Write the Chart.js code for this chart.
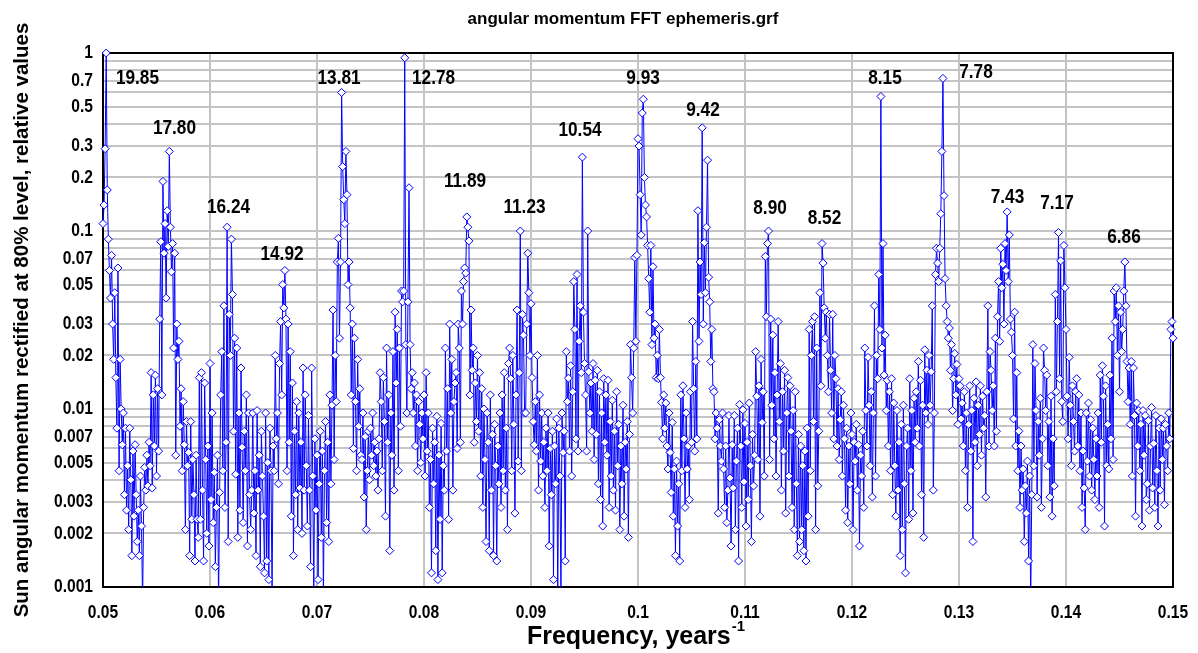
<!DOCTYPE html>
<html><head><meta charset="utf-8">
<script src="https://cdn.jsdelivr.net/npm/chart.js@4"></script>
<style>html,body{margin:0;padding:0;background:#fff;}#wrap{width:1198px;height:653px;position:relative;}</style>
</head><body><div id="wrap"><canvas id="c" width="1198" height="653"></canvas></div>
<script>
// ---------- data ----------
const freqStart = 0.05;
const freqStep = 0.0001;
const amp050 = [0.11,0.14,0.29,1.0,0.17,0.09,0.06,0.042,0.073,0.03,
0.019,0.045,0.015,0.0078,0.062,0.0045,0.019,0.01,0.0063,0.0095,
0.0033,0.0078,0.0027,0.0048,0.0021,0.0078,0.004,0.0015,0.0058,0.0025,
0.0063,0.0033,0.0018,0.0027,0.0015,0.0042,0.0022,0.0008,0.0028,0.0047,
0.0035,0.0055,0.0037,0.0065,0.0048,0.016,0.0036,0.012,0.0062,0.0155,
0.0042,0.013,0.0058,0.032,0.087,0.012,0.19,0.075,0.11,0.042,
0.13,0.082,0.28,0.105,0.059,0.085,0.022,0.075,0.0055,0.03,
0.019,0.024,0.008,0.013,0.0045,0.011,0.0063,0.0021,0.0085,0.0048,
0.0057,0.0015,0.0085,0.0024,0.0052,0.0033,0.0014,0.0055,0.0024,0.0019,
0.015,0.0024,0.016,0.0035,0.0014,0.014,0.0052,0.002,0.0062,0.0017];
const amp060 = [0.018,0.0031,0.0095,0.0023,0.0044,0.0013,0.0028,0.0055,0.0008,0.0034,
0.012,0.021,0.0045,0.038,0.0028,0.0065,0.105,0.0018,0.034,0.02,
0.09,0.044,0.0075,0.025,0.0043,0.022,0.0019,0.0095,0.0027,0.017,
0.0061,0.0023,0.0075,0.0045,0.012,0.0017,0.0095,0.0033,0.0021,0.0035,
0.0095,0.0026,0.0045,0.0015,0.0098,0.0035,0.0055,0.0013,0.0075,0.0042,
0.0025,0.0012,0.0095,0.0014,0.005,0.0011,0.0078,0.0045,0.0009,0.0062,
0.0045,0.02,0.0068,0.0095,0.0038,0.018,0.031,0.012,0.05,0.037,
0.06,0.032,0.0045,0.03,0.0065,0.021,0.0025,0.014,0.0015,0.0075,
0.0033,0.011,0.0021,0.0095,0.0036,0.0065,0.002,0.017,0.0035,0.012,
0.0048,0.0022,0.0092,0.0035,0.0013,0.017,0.0042,0.0009,0.0068,0.0027];
const amp070 = [0.0055,0.0011,0.0038,0.0075,0.0019,0.0058,0.0009,0.0045,0.0085,0.0023,
0.0065,0.0018,0.012,0.0038,0.0105,0.036,0.0052,0.02,0.011,0.067,
0.091,0.025,0.067,0.6,0.23,0.15,0.11,0.28,0.16,0.05,
0.067,0.037,0.012,0.03,0.006,0.025,0.011,0.0045,0.019,0.008,
0.013,0.0055,0.0052,0.0095,0.0032,0.007,0.0021,0.0045,0.0075,0.004,
0.0078,0.0055,0.0095,0.0048,0.0065,0.0042,0.0058,0.0035,0.0068,0.016,
0.011,0.0045,0.015,0.0085,0.0025,0.022,0.0065,0.012,0.0016,0.0095,
0.0055,0.021,0.0035,0.035,0.014,0.028,0.0045,0.022,0.008,0.046,
0.04,0.046,0.94,0.023,0.0095,0.04,0.175,0.023,0.013,0.016,
0.0095,0.014,0.0062,0.012,0.0045,0.011,0.0082,0.005,0.0095,0.0068];
const amp080 = [0.012,0.0042,0.016,0.0058,0.0095,0.0028,0.0052,0.0012,0.0078,0.0038,
0.0065,0.0016,0.0091,0.0011,0.0055,0.0024,0.0083,0.0012,0.0048,0.0035,
0.022,0.0058,0.013,0.0024,0.03,0.0095,0.019,0.0035,0.011,0.014,
0.016,0.006,0.03,0.022,0.0065,0.046,0.03,0.052,0.062,0.058,
0.12,0.105,0.088,0.012,0.036,0.0165,0.022,0.0065,0.014,0.0085,
0.02,0.0075,0.016,0.0042,0.013,0.0028,0.01,0.0052,0.0018,0.0095,
0.0065,0.0016,0.012,0.0035,0.0072,0.0015,0.0082,0.0048,0.0014,0.0062,
0.0038,0.0095,0.0028,0.012,0.0045,0.016,0.0035,0.0078,0.0021,0.018,
0.022,0.0148,0.0045,0.02,0.0082,0.0026,0.012,0.036,0.0051,0.016,
0.1,0.0045,0.034,0.026,0.0095,0.0095,0.03,0.075,0.045,0.02];
const amp090 = [0.039,0.015,0.0085,0.0063,0.011,0.0058,0.02,0.0035,0.012,0.0051,
0.0095,0.0042,0.0065,0.0028,0.0078,0.0045,0.0095,0.0017,0.006,0.0033,
0.0075,0.0011,0.0062,0.0038,0.0088,0.0008,0.0078,0.0042,0.0009,0.0095,
0.0057,0.0075,0.0014,0.021,0.011,0.0149,0.0058,0.0175,0.0042,0.0125,
0.052,0.028,0.0068,0.057,0.0058,0.024,0.038,0.016,0.26,0.035,
0.018,0.012,0.0058,0.1,0.0162,0.0095,0.014,0.0075,0.018,0.0052,
0.0145,0.0072,0.0165,0.0038,0.0125,0.0031,0.0095,0.0022,0.0148,0.0065,
0.012,0.0055,0.0145,0.0028,0.0085,0.0042,0.0112,0.0035,0.0075,0.0027,
0.0125,0.0048,0.0082,0.0021,0.0062,0.0038,0.0105,0.0025,0.0065,0.0046,
0.0085,0.0019,0.0072,0.023,0.015,0.0095,0.022,0.071,0.024,0.073];
const amp100 = [0.33,0.3,0.16,0.095,0.46,0.55,0.2,0.14,0.12,0.083,
0.054,0.035,0.083,0.023,0.063,0.025,0.03,0.015,0.02,0.0148,
0.028,0.015,0.0109,0.0068,0.012,0.0078,0.0108,0.0062,0.0046,0.0095,
0.0057,0.0034,0.0084,0.0025,0.0046,0.0015,0.0051,0.0022,0.0038,0.0014,
0.012,0.0045,0.0135,0.0068,0.0028,0.0095,0.0046,0.0062,0.0031,0.0125,
0.0065,0.031,0.013,0.0058,0.0185,0.0068,0.13,0.024,0.067,0.044,
0.38,0.03,0.086,0.045,0.105,0.25,0.055,0.04,0.0185,0.028,
0.013,0.0125,0.0068,0.0095,0.0078,0.0026,0.0087,0.0062,0.0051,0.0095,
0.0046,0.0028,0.0062,0.0023,0.0035,0.0092,0.0041,0.0017,0.0063,0.0036,
0.0092,0.0021,0.0051,0.0078,0.0014,0.0106,0.0062,0.0028,0.0099,0.0039];
const amp110 = [0.0083,0.0022,0.0065,0.0031,0.0108,0.0048,0.0018,0.0072,0.0037,0.0055,
0.021,0.0118,0.0052,0.0135,0.0025,0.019,0.0084,0.0125,0.0042,0.072,
0.033,0.085,0.1,0.0052,0.032,0.0105,0.026,0.0068,0.016,0.0042,
0.012,0.031,0.0085,0.018,0.0035,0.0125,0.0058,0.0165,0.0026,0.0095,
0.015,0.0042,0.0135,0.0075,0.0028,0.0098,0.0021,0.0125,0.0038,0.0015,
0.0072,0.0018,0.0062,0.0021,0.0048,0.0016,0.0058,0.0014,0.0078,0.0025,
0.028,0.0045,0.02,0.031,0.0085,0.033,0.0021,0.022,0.0037,0.0075,
0.045,0.0135,0.085,0.066,0.037,0.025,0.035,0.02,0.0125,0.034,
0.0165,0.0095,0.034,0.0068,0.02,0.0148,0.0062,0.013,0.0052,0.0087,
0.0125,0.0042,0.0105,0.0068,0.0027,0.0078,0.0023,0.0062,0.0038,0.0095];
const amp120 = [0.0072,0.0021,0.0065,0.0051,0.0082,0.0035,0.0063,0.0017,0.0055,0.0042,
0.0075,0.0028,0.022,0.0098,0.0062,0.0195,0.0105,0.0048,0.0125,0.0032,
0.0095,0.038,0.0042,0.02,0.0148,0.057,0.028,0.57,0.022,0.085,
0.0155,0.026,0.0098,0.0145,0.0062,0.0125,0.0045,0.0148,0.0033,0.0108,
0.0048,0.0025,0.0098,0.0035,0.0065,0.0015,0.0082,0.0021,0.0105,0.0038,
0.0012,0.0062,0.0078,0.0024,0.0148,0.0045,0.0098,0.0026,0.0115,0.0065,
0.0125,0.0078,0.0185,0.0062,0.0145,0.0033,0.0105,0.0019,0.0215,0.0095,
0.0165,0.0082,0.02,0.0105,0.0162,0.038,0.0035,0.0095,0.057,0.08,
0.066,0.052,0.08,0.125,0.28,0.72,0.158,0.054,0.038,0.031,
0.025,0.0285,0.0165,0.023,0.0098,0.0148,0.0205,0.012,0.0178,0.0082];
const amp130 = [0.0148,0.0135,0.0088,0.0108,0.0062,0.0125,0.0045,0.0095,0.0028,0.0082,
0.0135,0.0058,0.0098,0.0018,0.0115,0.0065,0.0142,0.0048,0.0105,0.0072,
0.0135,0.0055,0.0118,0.0078,0.0092,0.0032,0.0125,0.038,0.0062,0.021,
0.0165,0.0098,0.0135,0.0062,0.025,0.0075,0.033,0.052,0.024,0.08,
0.048,0.065,0.03,0.085,0.06,0.128,0.052,0.095,0.032,0.027,
0.02,0.0088,0.035,0.0062,0.016,0.0045,0.0075,0.0028,0.0062,0.0035,
0.0046,0.0018,0.0037,0.0026,0.0051,0.0014,0.0042,0.0008,0.0033,0.023,
0.0048,0.018,0.0098,0.0032,0.0085,0.0055,0.0115,0.0028,0.0068,0.022,
0.0165,0.0098,0.0155,0.0048,0.0085,0.0032,0.0118,0.0025,0.0068,0.0037,
0.044,0.0125,0.031,0.098,0.0148,0.068,0.011,0.0085,0.083,0.048];
const amp140 = [0.028,0.0118,0.0068,0.0195,0.0105,0.0048,0.0135,0.0085,0.0058,0.0125,
0.0148,0.0062,0.012,0.0045,0.0095,0.0028,0.0058,0.0036,0.0021,0.0095,
0.0051,0.0108,0.0042,0.0087,0.0035,0.0078,0.0052,0.0031,0.0068,0.0042,
0.0095,0.0028,0.0155,0.0065,0.0175,0.0118,0.0022,0.0135,0.0048,0.0082,
0.0046,0.0155,0.0068,0.025,0.0052,0.046,0.031,0.048,0.02,0.038,
0.0125,0.035,0.021,0.028,0.046,0.067,0.038,0.0185,0.011,0.017,
0.0082,0.0185,0.0042,0.017,0.0092,0.0025,0.0108,0.0062,0.0098,0.0045,
0.0082,0.0022,0.0098,0.0055,0.0092,0.0031,0.0038,0.0086,0.0027,0.0062,
0.0102,0.0036,0.0064,0.0028,0.0092,0.0045,0.0022,0.0078,0.0035,0.0088,
0.0052,0.0078,0.0029,0.0082,0.0062,0.0045,0.0095,0.0068,0.028,0.031,
0.025];
const xTickValues = [0.05,0.06,0.07,0.08,0.09,0.1,0.11,0.12,0.13,0.14,0.15];
const yTickLabels = [1,0.7,0.5,0.3,0.2,0.1,0.07,0.05,0.03,0.02,0.01,0.007,0.005,0.003,0.002,0.001];
const yGridMantissas = [1,2,3,4,5,6,7,8,9];
const peakPeriods = ['19.85','17.80','16.24','14.92','13.81','12.78','11.89','11.23','10.54','9.93','9.42','8.90','8.52','8.15','7.78','7.43','7.17','6.86'];
const peakLabelFreq = [0.05322,0.05668,0.06173,0.06673,0.07206,0.08089,0.08383,0.08939,0.09458,0.10047,0.10607,0.11234,0.11743,0.12308,0.13159,0.13453,0.13916,0.14542];
const peakLabelLevel = [0.724,0.379,0.1364,0.0743,0.724,0.724,0.191,0.1364,0.3694,0.724,0.4784,0.1346,0.1183,0.724,0.782,0.155,0.1437,0.0925];
const chartTitle = 'angular momentum FFT ephemeris.grf';
const yTitle = 'Sun angular momentum rectified at 80% level, relative values';
const xTitle = 'Frequency, years';
const xTitleSup = '-1';

// ---------- build ----------
const amplitudes = [].concat(amp050, amp060, amp070, amp080, amp090, amp100, amp110, amp120, amp130, amp140);
const points = amplitudes.map((v, i) => ({x: +(freqStart + i * freqStep).toFixed(4), y: v}));

const FONT = "'Liberation Sans', Arial, sans-serif";
const CONDENSE = 0.82;

// draw a scale's labels horizontally condensed (narrow bold look), anchored at each label's own position
function condenseLabels(scale) {
  if (!scale || scale._condensed) return;
  scale._condensed = true;
  scale.drawLabels = function (area) {
    const ctx = this.ctx;
    const items = this.getLabelItems(area);
    for (const it of items) {
      if (!it.label) continue;
      const o = it.options;
      ctx.save();
      ctx.translate(o.translation[0], o.translation[1]);
      ctx.rotate(o.rotation || 0);
      ctx.scale(CONDENSE, 1);
      ctx.font = it.font.string;
      ctx.fillStyle = o.color;
      ctx.textAlign = o.textAlign;
      ctx.textBaseline = o.textBaseline;
      const lines = Array.isArray(it.label) ? it.label : [it.label];
      let y = it.textOffset;
      for (const l of lines) { ctx.fillText(l, 0, y); y += it.font.lineHeight; }
      ctx.restore();
    }
  };
}

const decorPlugin = {
  id: 'decor',
  afterUpdate(chart) {
    condenseLabels(chart.scales.x);
    condenseLabels(chart.scales.y);
  },
  beforeDatasetsDraw(chart) {
    const {ctx, chartArea: a} = chart;
    ctx.save();
    ctx.strokeStyle = '#000';
    ctx.lineWidth = 2;
    ctx.strokeRect(a.left, a.top, a.right - a.left, a.bottom - a.top);
    ctx.restore();
  },
  afterDatasetsDraw(chart) {
    const {ctx, chartArea: a, scales} = chart;
    ctx.save();
    ctx.fillStyle = '#000';
    ctx.textAlign = 'center';
    ctx.textBaseline = 'middle';
    ctx.font = "bold 21px " + FONT;
    peakPeriods.forEach((t, i) => {
      ctx.save();
      ctx.translate(scales.x.getPixelForValue(peakLabelFreq[i]), scales.y.getPixelForValue(peakLabelLevel[i]));
      ctx.scale(CONDENSE, 1);
      ctx.fillText(t, 0, 0);
      ctx.restore();
    });
    // chart title
    ctx.font = "bold 17px " + FONT;
    ctx.fillText(chartTitle, 623, 19);
    // y title
    ctx.save();
    ctx.translate(22, (a.top + a.bottom) / 2);
    ctx.rotate(-Math.PI / 2);
    ctx.font = "bold 20.5px " + FONT;
    ctx.fillText(yTitle, 0, 0);
    ctx.restore();
    // x title with superscript
    ctx.font = "bold 25px " + FONT;
    const w1 = ctx.measureText(xTitle).width;
    ctx.font = "bold 15px " + FONT;
    const w2 = ctx.measureText(xTitleSup).width;
    const cx = 636;
    const x0 = cx - (w1 + w2 + 1) / 2;
    ctx.textAlign = 'left';
    ctx.textBaseline = 'alphabetic';
    ctx.font = "bold 25px " + FONT;
    ctx.fillText(xTitle, x0, 644);
    ctx.font = "bold 15px " + FONT;
    ctx.fillText(xTitleSup, x0 + w1 + 1, 631);
    ctx.restore();
  }
};

new Chart(document.getElementById('c'), {
  type: 'scatter',
  data: {
    datasets: [{
      data: points,
      showLine: true,
      borderColor: '#0000ff',
      borderWidth: 1,
      pointStyle: 'rectRot',
      pointRadius: 4,
      pointBorderWidth: 1,
      pointBorderColor: '#0000ff',
      pointBackgroundColor: '#ffffff',
      clip: {left: 6, top: 8, right: 8, bottom: 0}
    }]
  },
  options: {
    responsive: false,
    devicePixelRatio: 1,
    animation: false,
    events: [],
    layout: {padding: {left: 0, right: 25, top: 53, bottom: 0}},
    plugins: {legend: {display: false}, title: {display: false}, tooltip: {enabled: false}},
    scales: {
      x: {
        type: 'linear',
        min: 0.05, max: 0.15,
        afterBuildTicks(s) { s.ticks = xTickValues.map(v => ({value: v})); },
        afterFit(s) { s.height = 66; s.paddingLeft = 0; s.paddingRight = 0; },
        border: {display: false},
        grid: {color: '#c4c4c4', lineWidth: 2, drawTicks: false},
        ticks: {
          autoSkip: false, maxRotation: 0, padding: 14, color: '#000',
          font: {family: FONT, size: 19, weight: 'bold'},
          callback: v => String(Math.round(v * 100) / 100)
        }
      },
      y: {
        type: 'logarithmic',
        min: 0.001, max: 1,
        afterBuildTicks(s) {
          const t = [];
          for (let e = -3; e <= -1; e++) yGridMantissas.forEach(m => t.push({value: +(m + 'e' + e)}));
          t.push({value: 1});
          s.ticks = t;
        },
        afterFit(s) { s.width = 103; s.paddingTop = 0; s.paddingBottom = 0; },
        border: {display: false},
        grid: {color: '#c4c4c4', lineWidth: 2, drawTicks: false},
        ticks: {
          autoSkip: false, padding: 10, color: '#000',
          font: {family: FONT, size: 19, weight: 'bold'},
          callback: v => yTickLabels.some(l => Math.abs(l - v) < l * 1e-6) ? String(v) : ''
        }
      }
    }
  },
  plugins: [decorPlugin]
});
</script>
</body></html>
